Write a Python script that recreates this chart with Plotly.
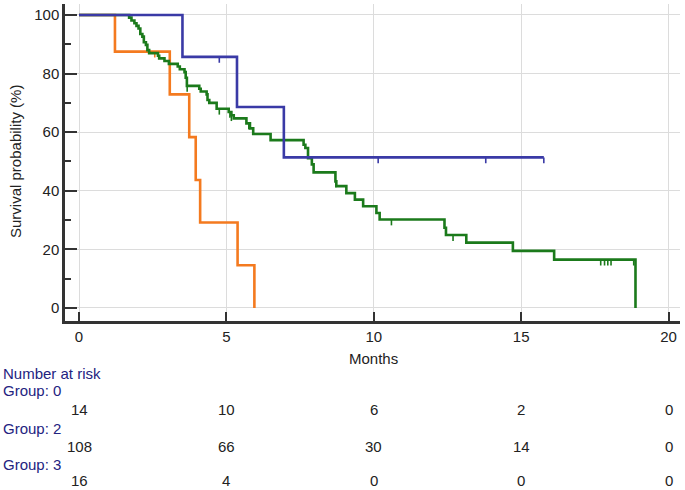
import plotly.graph_objects as go

# ---------------- data ----------------
# Group 0 (blue)
g0_times = [0, 3.51, 5.36, 6.95, 15.77]
g0_surv = [100, 85.7, 68.6, 51.4, 51.4]
g0_censor = [4.76, 10.15, 13.8, 15.77]

# Group 2 (green)
g2_times = [0, 1.70, 1.78, 1.88, 1.95, 2.02, 2.08, 2.15, 2.20, 2.27, 2.32, 2.38,
            2.68, 2.72, 2.90, 3.05, 3.35, 3.42, 3.58, 3.62, 3.66,
            4.08, 4.13, 4.33, 4.36, 4.42, 4.67, 5.08, 5.17, 5.25, 5.68, 5.80, 5.91,
            6.50, 7.62, 7.68, 7.77, 7.90, 7.96, 8.70, 8.73, 9.07, 9.36, 9.64,
            10.09, 10.20, 12.40, 12.45, 13.14, 14.72, 16.12, 18.88]
g2_surv = [100, 99.1, 98.1, 97.2, 96.3, 95.4, 93.5, 92.6, 90.7, 89.8, 88.0, 87.0,
           86.1, 85.2, 84.3, 83.3, 82.4, 81.5, 80.5, 78.6, 75.8,
           74.8, 73.9, 72.9, 71.0, 70.0, 68.0, 66.9, 65.8, 64.7, 63.0, 61.3, 59.4,
           57.3, 55.7, 54.6, 51.1, 49.0, 46.3, 43.2, 41.6, 39.2, 37.0, 34.7,
           32.4, 30.2, 27.4, 24.9, 22.3, 19.5, 16.5, 0]
g2_censor = [3.67, 4.76, 5.12, 5.17, 5.76, 8.72, 10.6, 12.69,
             17.70, 17.83, 17.94, 18.05, 18.82]

# Group 3 (orange)
g3_times = [0, 1.22, 3.08, 3.74, 3.96, 4.11, 5.38, 5.95]
g3_surv = [100, 87.5, 72.9, 58.3, 43.7, 29.2, 14.6, 0]
g3_censor = [2.57]

x_ticks = [0, 5, 10, 15, 20]
y_ticks = [0, 20, 40, 60, 80, 100]

risk_groups = ["Group: 0", "Group: 2", "Group: 3"]
risk_g0 = [14, 10, 6, 2, 0]
risk_g2 = [108, 66, 30, 14, 0]
risk_g3 = [16, 4, 0, 0, 0]

# ---------------- style ----------------
C_BLUE = "#3a3aa6"
C_GREEN = "#1b7a1b"
C_ORANGE = "#f47a1f"
NAVY = "#23237f"
FONT = "Liberation Sans, Arial, sans-serif"
FS = 15
TICK_DROP = 2.0  # censor tick length in % units


def surv_at(times, surv, t):
    s = surv[0]
    for ti, si in zip(times, surv):
        if ti <= t:
            s = si
        else:
            break
    return s


def censor_segments(times, surv, cens):
    xs, ys = [], []
    for c in cens:
        s = surv_at(times, surv, c)
        xs += [c, c, None]
        ys += [s, s - TICK_DROP, None]
    return xs, ys


fig = go.Figure()
for times, surv, cens, col in [
    (g3_times, g3_surv, g3_censor, C_ORANGE),
    (g2_times, g2_surv, g2_censor, C_GREEN),
    (g0_times, g0_surv, g0_censor, C_BLUE),
]:
    fig.add_trace(go.Scatter(x=times, y=surv, mode="lines", line_shape="hv",
                             line=dict(color=col, width=2.6), showlegend=False,
                             hoverinfo="skip"))
    cx, cy = censor_segments(times, surv, cens)
    fig.add_trace(go.Scatter(x=cx, y=cy, mode="lines",
                             line=dict(color=col, width=1.6), showlegend=False,
                             hoverinfo="skip"))

# plot area geometry in pixels
W, H = 685, 490
L, R, T, B = 65, 5, 4, 169
PLOT_BOTTOM = H - B
PLOT_H = H - T - B
PLOT_W = W - L - R


def py2paper(py):
    return (PLOT_BOTTOM - py) / PLOT_H


def px2paper(px):
    return (px - L) / PLOT_W


axis_common = dict(showline=True, linecolor="#333333", linewidth=2.5,
                   showgrid=True, gridcolor="#dcdcdc", gridwidth=1,
                   zeroline=False, ticks="inside", tickcolor="#333333",
                   tickwidth=2, automargin=False,
                   tickfont=dict(family=FONT, size=FS, color="#222222"))

fig.update_xaxes(range=[-0.475, 20.39], tickvals=x_ticks, ticklen=9, **axis_common)
fig.update_yaxes(range=[-4.44, 103.75], tickvals=y_ticks, ticklen=12,
                 minor=dict(dtick=10, ticks="inside", ticklen=6, tickwidth=1.5,
                            tickcolor="#333333", showgrid=False),
                 **axis_common)

ann = []
ann.append(dict(text="Months", xref="x", yref="paper", x=10, y=py2paper(358),
                showarrow=False, xanchor="center", yanchor="middle",
                font=dict(family=FONT, size=FS, color="#222222")))
ann.append(dict(text="Survival probability (%)", xref="paper", yref="paper",
                x=px2paper(15), y=py2paper(162), textangle=-90, showarrow=False,
                xanchor="center", yanchor="middle",
                font=dict(family=FONT, size=FS, color="#222222")))
ann.append(dict(text="Number at risk", xref="paper", yref="paper",
                x=px2paper(1), y=py2paper(373), showarrow=False,
                xanchor="left", yanchor="middle",
                font=dict(family=FONT, size=FS, color=NAVY)))

rows = [risk_g0, risk_g2, risk_g3]
label_y = [390, 428, 464]
num_y = [409, 446, 480]
for name, vals, ly, ny in zip(risk_groups, rows, label_y, num_y):
    ann.append(dict(text=name, xref="paper", yref="paper",
                    x=px2paper(1), y=py2paper(ly), showarrow=False,
                    xanchor="left", yanchor="middle",
                    font=dict(family=FONT, size=FS, color=NAVY)))
    for xv, v in zip(x_ticks, vals):
        ann.append(dict(text=str(v), xref="x", yref="paper",
                        x=xv, y=py2paper(ny), showarrow=False,
                        xanchor="center", yanchor="middle",
                        font=dict(family=FONT, size=FS, color="#222222")))

fig.update_layout(width=W, height=H, margin=dict(l=L, r=R, t=T, b=B),
                  paper_bgcolor="white", plot_bgcolor="white",
                  annotations=ann, showlegend=False)

fig.write_html("out.html",
               config={"displayModeBar": False},
               post_script="document.body.style.margin='0';"
                           "document.body.style.overflow='hidden';")
